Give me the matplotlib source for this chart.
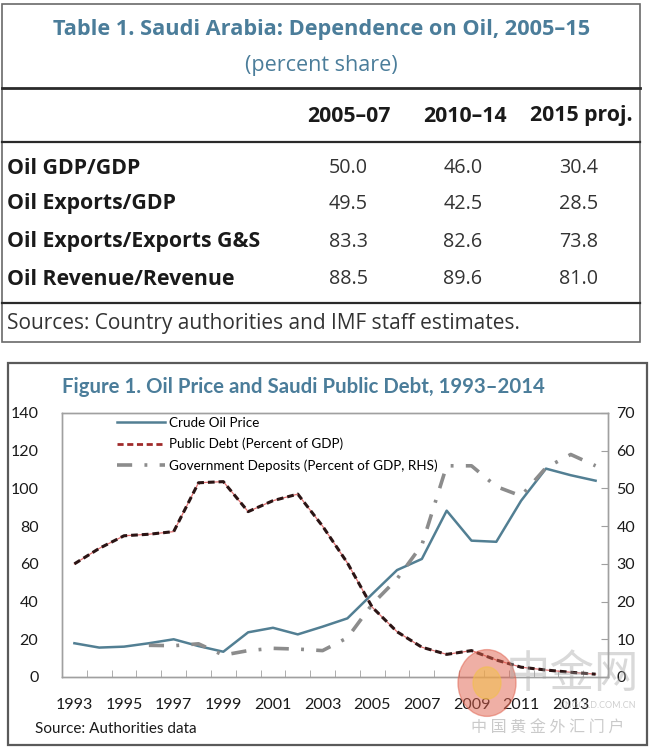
import numpy as np
import matplotlib
matplotlib.use('Agg')
import matplotlib.pyplot as plt
import matplotlib.patches as mpatches
from matplotlib.lines import Line2D

# Table 1 data
table_title = 'Table 1. Saudi Arabia: Dependence on Oil, 2005\u201315'
table_subtitle = '(percent share)'
col_headers = ['2005\u201307', '2010\u201314', '2015 proj.']
row_labels = ['Oil GDP/GDP', 'Oil Exports/GDP', 'Oil Exports/Exports G&S', 'Oil Revenue/Revenue']
vals_2005_07 = [50.0, 49.5, 83.3, 88.5]
vals_2010_14 = [46.0, 42.5, 82.6, 89.6]
vals_2015 = [30.4, 28.5, 73.8, 81.0]
table_source = 'Sources: Country authorities and IMF staff estimates.'

# Figure 1 data
years = list(range(1993, 2015))
crude_oil = [17.9, 15.6, 16.1, 17.9, 20.0, 16.4, 13.4, 23.7, 26.1, 22.6, 26.7,
             31.1, 44.0, 56.7, 62.6, 88.2, 72.3, 71.7, 93.5, 110.5, 107.0, 104.1]
public_debt = [60.0, 68.2, 74.9, 75.7, 77.1, 103.0, 103.6, 87.7, 93.5, 97.0, 80.0,
               60.5, 37.0, 24.0, 15.8, 12.0, 14.0, 9.0, 5.2, 3.7, 2.5, 1.5]
gov_deposits = [np.nan, np.nan, np.nan, 8.4, 8.3, 8.8, 5.8, 7.0, 7.6, 7.4, 7.0,
                10.4, 19.3, 26.0, 35.0, 56.0, 56.0, 50.5, 48.0, 55.5, 59.0, 56.0]

W, H = 650, 748
BLUE = '#4b7d9a'
OIL = '#527f93'
GREY = '#8c8c8c'
TFONT = 'Open Sans'
CFONT = 'Lato'
CJK = ['Noto Sans CJK SC', 'DejaVu Sans']


def px(x, y):
    return x / W, 1 - y / H


fig = plt.figure(figsize=(W / 100, H / 100), dpi=100)
fig.patch.set_facecolor('white')

# ---- table ----
x0, y0 = px(2, 342)
fig.patches.append(mpatches.Rectangle((x0, y0), 638 / W, 338 / H, transform=fig.transFigure,
                                      fill=False, edgecolor='#6a6a6a', linewidth=1.2))
for yy, lw in [(88, 2.0), (142, 1.6), (303, 1.6)]:
    fig.add_artist(Line2D([2 / W, 640 / W], [1 - yy / H] * 2, transform=fig.transFigure,
                          color='#2a2a2a', linewidth=lw))

fig.text(*px(322, 30), table_title, ha='center', va='center', fontsize=15.7,
         fontweight='bold', color=BLUE, family=TFONT)
fig.text(*px(321, 65), table_subtitle, ha='center', va='center', fontsize=15.5,
         color=BLUE, family=TFONT)

for cx, h in zip([349, 465, 581], col_headers):
    fig.text(*px(cx, 116), h, ha='center', va='center', fontsize=15.3, fontweight='bold',
             color='#1a1a1a', family=TFONT)

row_y = [168, 204, 242, 279]
cols = [vals_2005_07, vals_2010_14, vals_2015]
for i, (ry, lab) in enumerate(zip(row_y, row_labels)):
    fig.text(*px(7, ry), lab, ha='left', va='center', fontsize=15.3, fontweight='bold',
             color='#1a1a1a', family=TFONT)
    for cx, col in zip([348, 463, 579], cols):
        fig.text(*px(cx, ry), '%.1f' % col[i], ha='center', va='center', fontsize=14.2,
                 color='#333333', family=TFONT)

fig.text(*px(7, 324), table_source, ha='left', va='center', fontsize=15,
         color='#333333', family=TFONT)

# ---- figure 1 ----
bx, by = px(8, 745)
fig.patches.append(mpatches.Rectangle((bx, by), 639 / W, 382 / H, transform=fig.transFigure,
                                      fill=False, edgecolor='#5a5a5a', linewidth=1.6))
fig.text(*px(62, 387), 'Figure 1. Oil Price and Saudi Public Debt, 1993\u20132014', ha='left',
         va='center', fontsize=14.7, fontweight='bold', color=BLUE, family=CFONT)

ax = fig.add_axes([62 / W, 1 - 677 / H, 546 / W, 264 / H])
ax2 = ax.twinx()
xs = np.arange(len(years))

ax.plot(xs, crude_oil, color=OIL, linewidth=1.8, zorder=3)
ax.plot(xs, public_debt, color='#e07070', linewidth=0.9, zorder=2)
ax.plot(xs, public_debt, color='#2b1414', linewidth=2.2, dashes=(2.2, 1.3), zorder=2)
ax2.plot(xs, gov_deposits, color=GREY, linewidth=2.6, dashes=(4.2, 3.4, 0.8, 3.4))

ax.set_xlim(-0.5, len(years) - 0.5)
ax.set_ylim(0, 140)
ax2.set_ylim(0, 70)
ax.set_yticks(range(0, 141, 20))
ax2.set_yticks(range(0, 71, 10))
ax.set_xticks(xs[::2])
ax.set_xticklabels([str(y) for y in years[::2]])
ax.set_xticks(xs[:-1] + 0.5, minor=True)

for a in (ax, ax2):
    for s in a.spines.values():
        s.set_color('#a0a0a0')
        s.set_linewidth(1.0)
ax.tick_params(axis='x', which='major', length=0, pad=15, labelsize=11.5, labelcolor='#1a1a1a')
ax.tick_params(axis='x', which='minor', direction='in', length=5, color='#a0a0a0')
ax.tick_params(axis='y', direction='in', length=0, pad=17, labelsize=11.5, labelcolor='#1a1a1a')
ax2.tick_params(axis='y', direction='in', length=5, color='#a0a0a0', pad=6, labelsize=11.5,
                labelcolor='#1a1a1a')
for lab in ax.get_xticklabels() + ax.get_yticklabels() + ax2.get_yticklabels():
    lab.set_family(CFONT)

h1 = Line2D([], [], color=OIL, linewidth=1.8)
h2 = Line2D([], [], color='#a02a2a', linewidth=2.0, dashes=(2.2, 1.3))
h3 = Line2D([], [], color=GREY, linewidth=2.6, dashes=(4.2, 3.4, 0.8, 3.4))
ax.legend([h1, h2, h3], ['Crude Oil Price', 'Public Debt (Percent of GDP)',
                         'Government Deposits (Percent of GDP, RHS)'],
          loc='upper left', bbox_to_anchor=(0.1, 0.985), frameon=False,
          handlelength=3.6, handletextpad=0.3, labelspacing=0.65, borderpad=0,
          borderaxespad=0, prop={'family': CFONT, 'size': 9.7})

fig.text(*px(35, 729), 'Source: Authorities data', ha='left', va='center', fontsize=11,
         color='#1a1a1a', family=CFONT)

# watermark
fig.patches.append(mpatches.Circle(px(487, 683), 29 / W, transform=fig.transFigure,
                                   color='#e0604c', alpha=0.5, zorder=5))
fig.patches.append(mpatches.Circle(px(487, 683), 14 / W, transform=fig.transFigure,
                                   color='#f2c04a', alpha=0.55, zorder=6))
fig.text(*px(572, 674), '中金网', ha='center', va='center', fontsize=32, color='#a0a0a0',
         alpha=0.4, family=CJK, zorder=6)
fig.text(*px(598, 706), 'CNGOLD.COM.CN', ha='center', va='center', fontsize=6.5,
         color='#a0a0a0', alpha=0.5, family=CFONT, zorder=6)
fig.text(*px(548, 728), '中 国 黄 金 外 汇 门 户', ha='center', va='center', fontsize=11.5,
         color='#a0a0a0', alpha=0.55, family=CJK, zorder=6)

fig.savefig('out.png', dpi=100)
